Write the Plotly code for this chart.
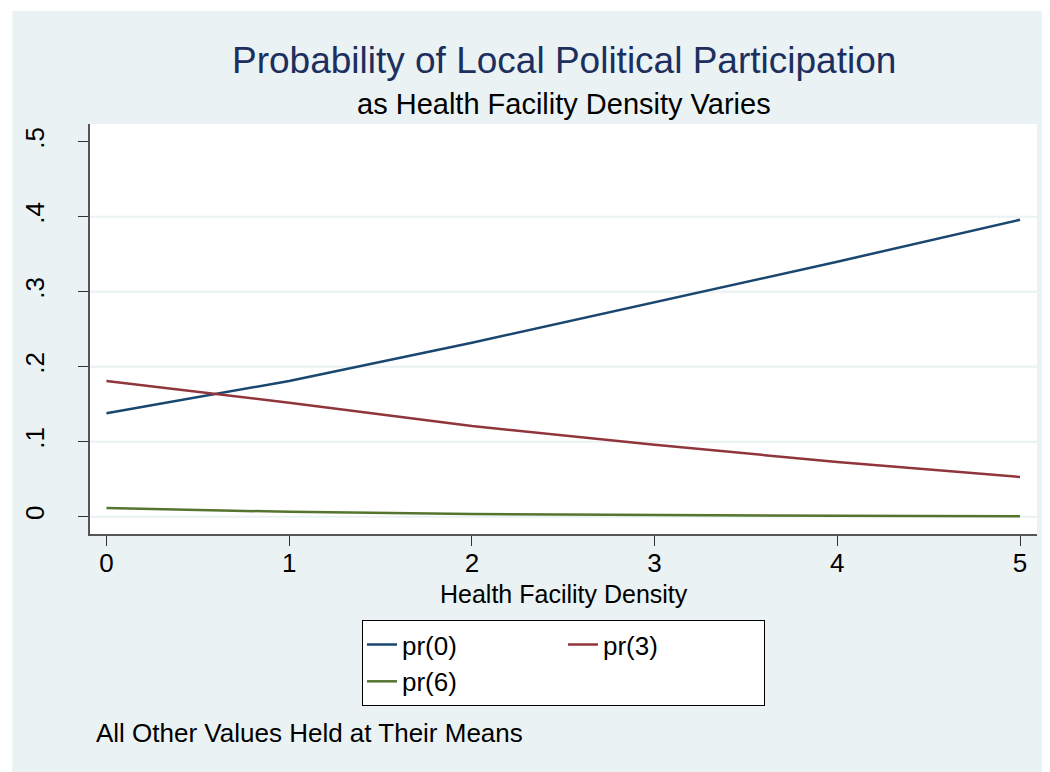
import plotly.graph_objects as go

# predicted probabilities at each density value
density = [0, 1, 2, 3, 4, 5]
pr0 = [0.138, 0.181, 0.232, 0.286, 0.340, 0.396]
pr3 = [0.181, 0.152, 0.121, 0.096, 0.073, 0.053]
pr6 = [0.0117, 0.0065, 0.0037, 0.0021, 0.0012, 0.0006]

y_ticks = [0, 0.1, 0.2, 0.3, 0.4, 0.5]
y_ticklabels = ["0", ".1", ".2", ".3", ".4", ".5"]
grid_vals = [0, 0.1, 0.2, 0.3, 0.4]

BG = "#EAF2F3"
FONT = "Liberation Sans, Arial, sans-serif"

fig = go.Figure()
fig.add_trace(go.Scatter(x=density, y=pr0, mode="lines", name="pr(0)", legendgroup="a",
                         line=dict(color="#1A476F", width=2.5)))
fig.add_trace(go.Scatter(x=density, y=pr3, mode="lines", name="pr(3)", legendgroup="b",
                         line=dict(color="#90353B", width=2.5)))
fig.add_trace(go.Scatter(x=density, y=pr6, mode="lines", name="pr(6)", legendgroup="a",
                         line=dict(color="#55752F", width=2.5)))

shapes = [
    # outer graph region and white plot region
    dict(type="rect", xref="paper", yref="paper", x0=-0.082, x1=1.05, y0=-0.62, y1=1.2756,
         fillcolor=BG, line=dict(width=0), layer="below"),
    dict(type="rect", xref="paper", yref="paper", x0=0, x1=1, y0=0, y1=1,
         fillcolor="white", line=dict(width=0), layer="below"),
]
for g in grid_vals:
    shapes.append(dict(type="line", xref="paper", yref="y", x0=0, x1=1, y0=g, y1=g,
                       line=dict(color=BG, width=2), layer="below"))

fig.update_layout(
    width=1050,
    height=772,
    margin=dict(l=78, r=21, t=116, b=246),
    paper_bgcolor="white",
    plot_bgcolor="rgba(0,0,0,0)",
    font=dict(family=FONT, size=26, color="black"),
    shapes=shapes,
    xaxis=dict(
        range=[-0.09, 5.093],
        tickvals=density,
        showgrid=False, zeroline=False,
        showline=True, linecolor="#555555", linewidth=1.5,
        ticks="outside", ticklen=10, tickcolor="#333333", tickwidth=1,
        tickfont=dict(size=26),
        ticklabelstandoff=-5,
    ),
    yaxis=dict(
        range=[-0.023, 0.5236],
        tickvals=y_ticks, ticktext=y_ticklabels,
        tickangle=-90,
        showgrid=False, zeroline=False,
        showline=True, linecolor="#555555", linewidth=1.5,
        ticks="outside", ticklen=10, tickcolor="#333333", tickwidth=1,
        tickfont=dict(size=26),
        ticklabelstandoff=24,
    ),
    showlegend=True,
    legend=dict(
        orientation="h", traceorder="grouped",
        x=0.5, xanchor="center", y=-0.21, yanchor="top",
        bgcolor="white", bordercolor="black", borderwidth=1,
        font=dict(size=26), tracegroupgap=50, entrywidth=156,
    ),
    annotations=[
        dict(text="Probability of Local Political Participation", xref="paper", yref="paper",
             x=0.5, y=1.156, xanchor="center", yanchor="middle", showarrow=False,
             font=dict(size=37, color="#1C2F5E")),
        dict(text="as Health Facility Density Varies", xref="paper", yref="paper",
             x=0.5, y=1.049, xanchor="center", yanchor="middle", showarrow=False,
             font=dict(size=29, color="black")),
        dict(text="Health Facility Density", xref="paper", yref="paper",
             x=0.5, y=-0.146, xanchor="center", yanchor="middle", showarrow=False,
             font=dict(size=25, color="black")),
        dict(text="All Other Values Held at Their Means", xref="paper", yref="paper",
             x=0.004, y=-0.485, xanchor="left", yanchor="middle", showarrow=False,
             font=dict(size=26, color="black")),
    ],
)

fig.write_html("out.html")
